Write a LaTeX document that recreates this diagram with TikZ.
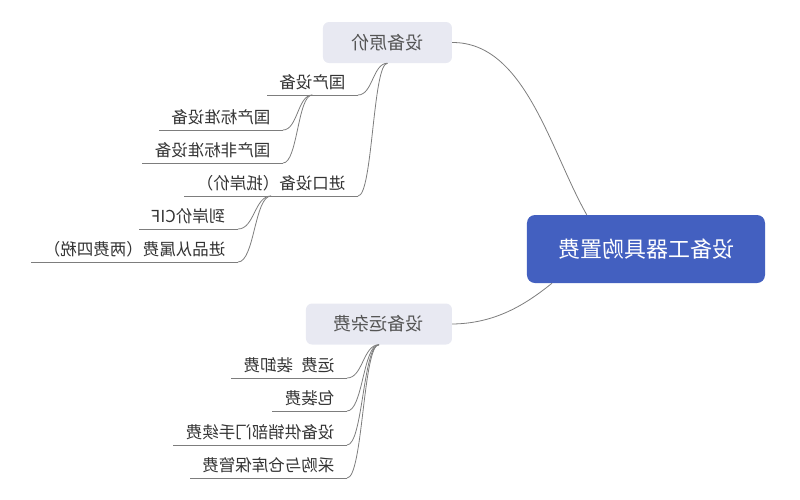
\documentclass[tikz,border=0pt]{standalone}
\usepackage{fontspec}
\usepackage{tikz}
\usetikzlibrary{calc}
\newfontfamily\cjk{Noto Sans CJK SC}
\definecolor{topicblue}{RGB}{67,96,192}
\definecolor{subgray}{RGB}{232,233,242}
\definecolor{subtext}{RGB}{85,85,85}
\definecolor{leaftext}{RGB}{51,51,51}
\definecolor{wire}{RGB}{125,125,125}

\begin{document}
\begin{tikzpicture}[xscale=-1, transform shape, x=1pt, y=-1pt]
\tikzstyle{every node} = [font=\cjk, inner sep=0pt]
\tikzstyle{topic} = [rectangle, rounded corners=8pt, fill=topicblue, text=white, minimum width=238pt, minimum height=68pt, font=\cjk\fontsize{22}{22}\selectfont]
\tikzstyle{subtopic} = [rectangle, rounded corners=6pt, fill=subgray, text=subtext, minimum height=41pt, font=\cjk\fontsize{18}{18}\selectfont]
\tikzstyle{leaf} = [anchor=south west, inner xsep=12.5pt, inner ysep=4.5pt, text height=12pt, text depth=2pt, text=leaftext, font=\cjk\fontsize{16.5}{16.5}\selectfont]
\tikzstyle{twig} = [to path={.. controls ($(\tikztostart)!.5!(\tikztotarget |- \tikztostart)$) and ($(\tikztotarget)!.5!(\tikztostart |- \tikztotarget)$) .. (\tikztotarget)}]
\useasboundingbox (0,0) rectangle (800,499);

% drawn in mirror: x runs from the right edge
\node[topic] (fee) at (154,249) {设备工器具购置费};
\node[subtopic, minimum width=129pt] (yuanjia) at (412.5,42.5) {设备原价};
\node[subtopic, minimum width=146pt] (zafei) at (421,324) {设备运杂费};

\node[leaf] (guochan) at (442,95) {国产设备};
\node[leaf] (jinkou) at (442,196) {进口设备（抵岸价）};
\node[leaf] (biaozhun) at (517,130) {国产标准设备};
\node[leaf] (feibiao) at (517,163) {国产非标准设备};
\node[leaf] (cif) at (562,229) {到岸价CIF};
\node[leaf] (congshu) at (562,262) {进品从属费（两费四税）};
\node[leaf] (yunfei) at (453,378) {运费\enspace 装卸费};
\node[leaf] (baozhuang) at (453,411) {包装费};
\node[leaf] (shouxu) at (453,445) {设备供销部门手续费};
\node[leaf] (baoguan) at (453,478) {采购与仓库保管费};

\draw[wire, line width=.8pt] (yuanjia.west) .. controls (275,42) and (250,150) .. (fee.30);
\draw[wire, line width=.8pt] (zafei.west) .. controls (305,323.5) and (275,305) .. (fee.-20);

\foreach \n in {guochan,jinkou,biaozhun,feibiao,cif,congshu,yunfei,baozhuang,shouxu,baoguan}
  \draw[wire, line width=.8pt] (\n.south west) -- (\n.south east);

\foreach \from/\to in {yuanjia/guochan, yuanjia/jinkou, guochan/biaozhun, guochan/feibiao, jinkou/cif, jinkou/congshu, zafei/yunfei, zafei/baozhuang, zafei/shouxu, zafei/baoguan}
  \draw[wire, line width=.8pt] (\from.south) to[twig] (\to.south west);
\end{tikzpicture}
\end{document}
